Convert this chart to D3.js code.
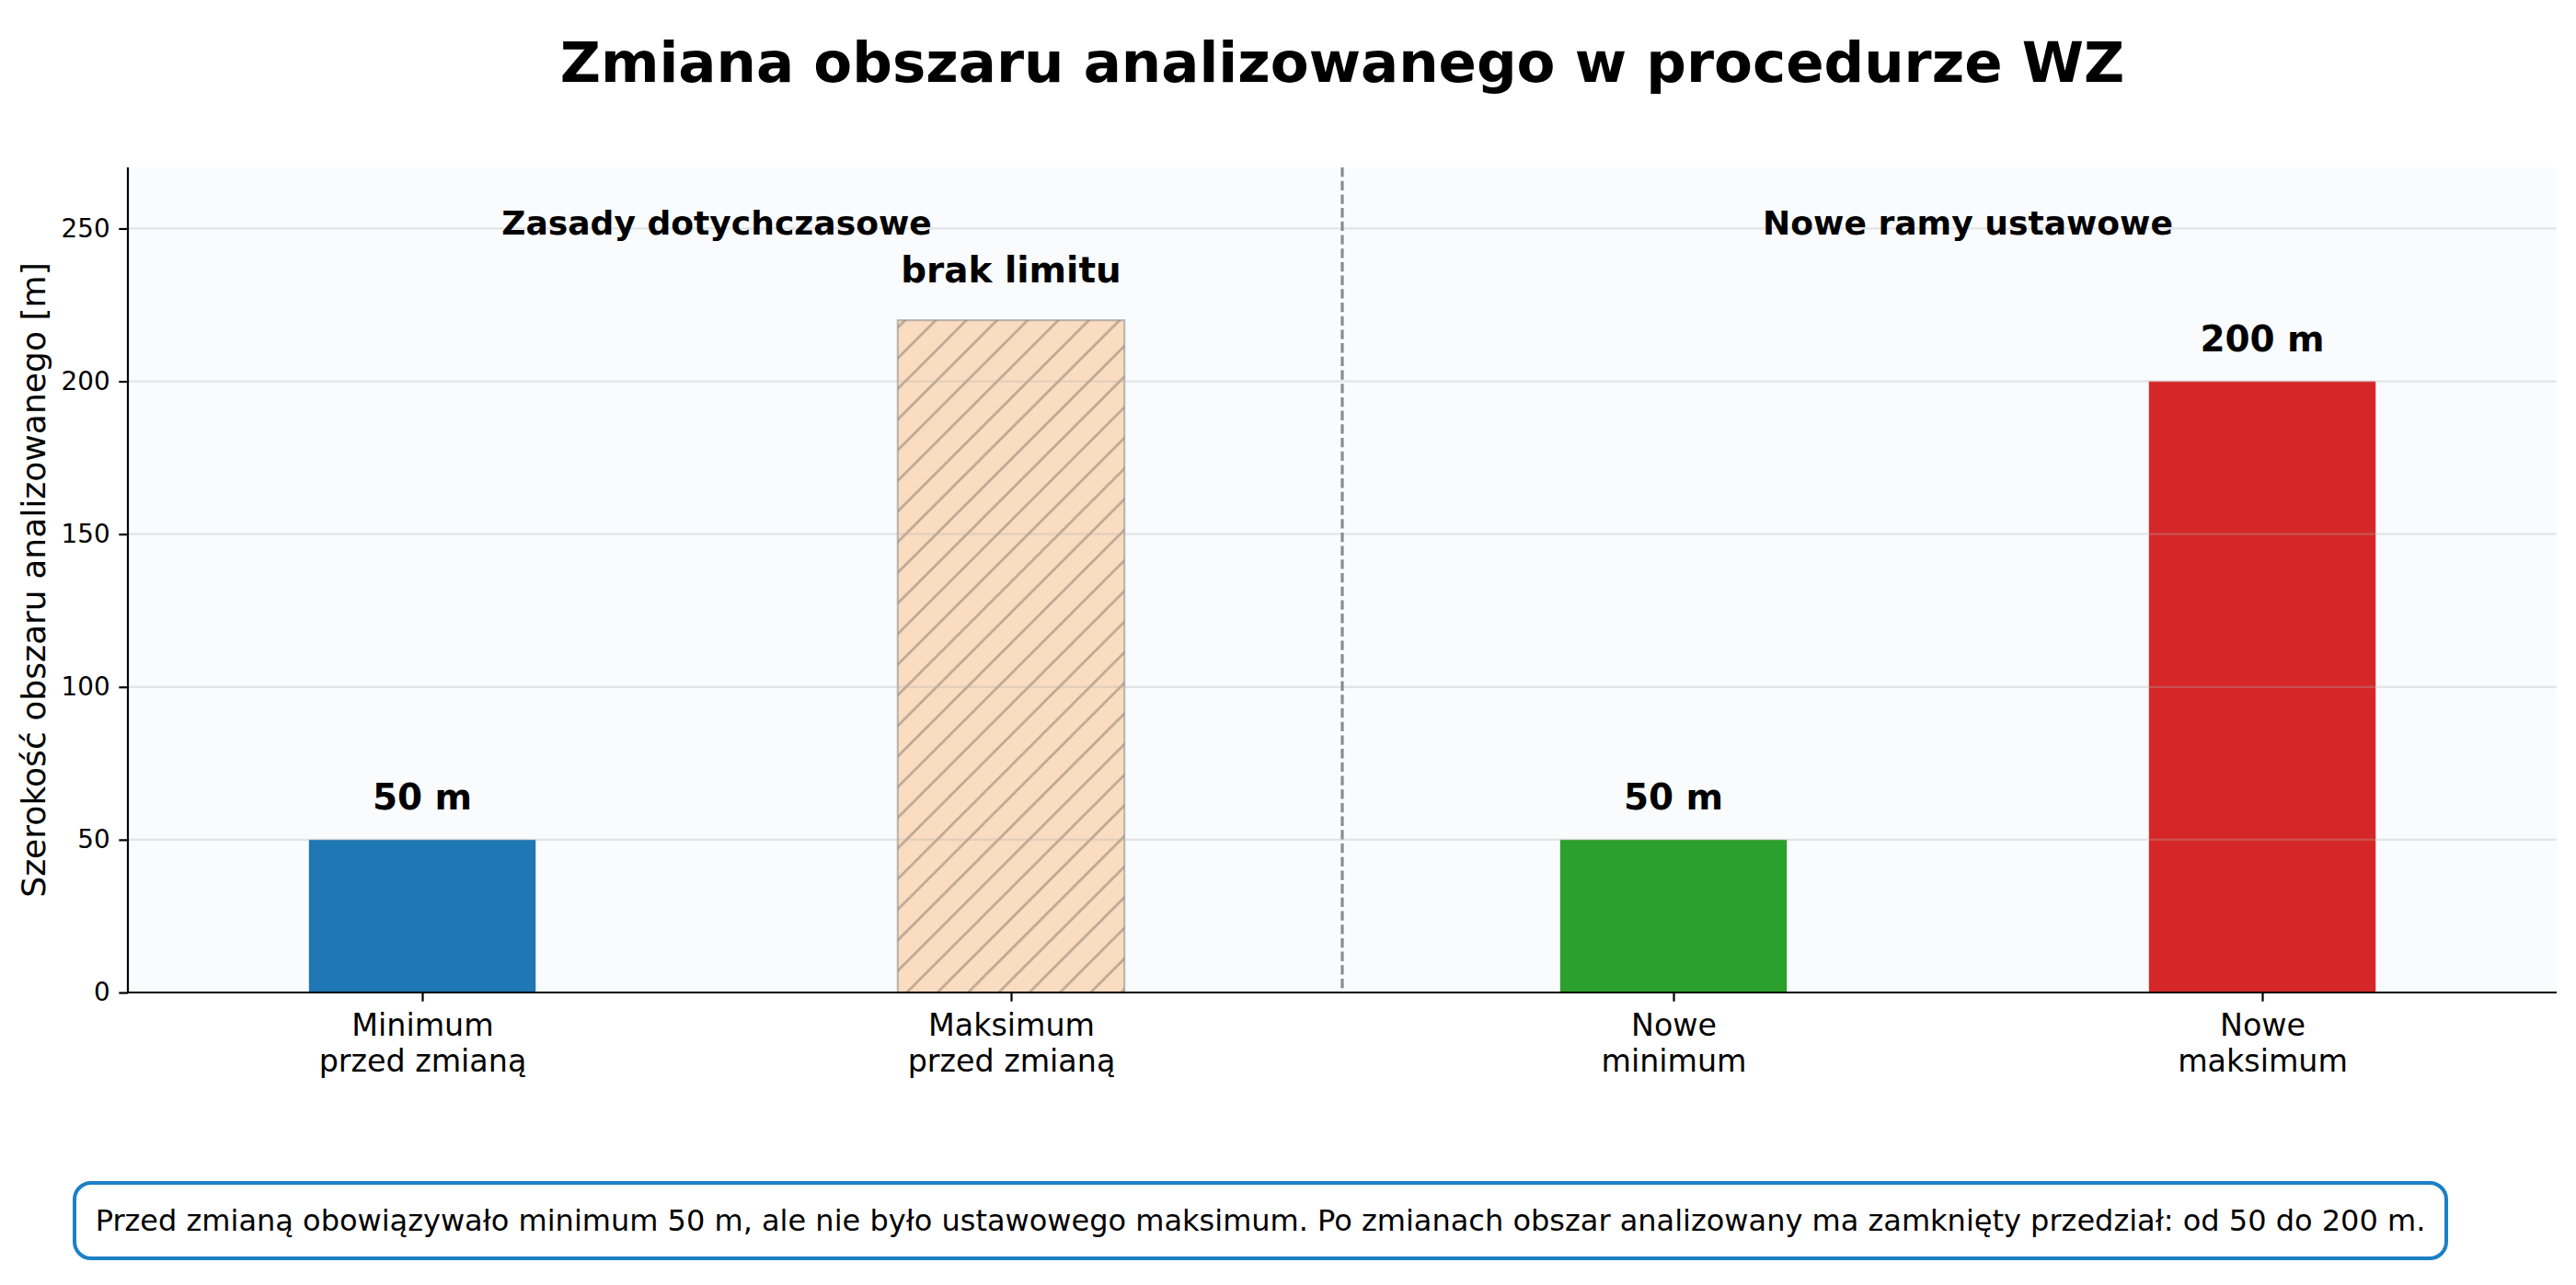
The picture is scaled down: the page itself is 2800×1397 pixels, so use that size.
<!DOCTYPE html>
<html>
<head>
	<title></title>
	<script type="text/javascript" src="https://cdn.jsdelivr.net/npm/d3@7"></script>
	<style>
		body { margin: 0; background: #fff; }
		text { font-family: 'DejaVu Sans', sans-serif; }
	</style>
</head>
<body>

<div id='chart'></div>

<script type="text/javascript">

var categories = ['Minimum\nprzed zmianą', 'Maksimum\nprzed zmianą', 'Nowe\nminimum', 'Nowe\nmaksimum'];
var positions = [0, 1, 2.125, 3.125];
var values = [50, 220, 50, 200];
var value_labels = ['50 m', 'brak limitu', '50 m', '200 m'];
var bar_colors = ['#1f77b4', '#ff7f0e', '#2ca02c', '#d62728'];
var hatched = [false, true, false, false];

var group_labels = ['Zasady dotychczasowe', 'Nowe ramy ustawowe'];
var group_members = [[0, 1], [2, 3]];

var y_ticks = [0, 50, 100, 150, 200, 250];

var title = 'Zmiana obszaru analizowanego w procedurze WZ';
var y_title = 'Szerokość obszaru analizowanego [m]';
var note = 'Przed zmianą obowiązywało minimum 50 m, ale nie było ustawowego maksimum. Po zmianach obszar analizowany ma zamknięty przedział: od 50 do 200 m.';

var width = 2800,
	height = 1397;

var plot_left = 139,
	plot_right = 2779,
	plot_top = 182,
	plot_bottom = 1079;

var bar_width = 0.385;

var x = d3.scaleLinear()
	.domain([-0.5, positions[positions.length - 1] + 0.5])
	.range([plot_left, plot_right]);

var y = d3.scaleLinear()
	.domain([0, 270])
	.range([plot_bottom, plot_top]);

var svg = d3.select('#chart').append('svg')
	.attr('width', width)
	.attr('height', height)
	.style('display', 'block');

svg.append('rect')
	.attr('width', width)
	.attr('height', height)
	.style('fill', '#ffffff');

// hatch for the "no limit" bar
var hatch_step = 33.3;
var pat = svg.append('defs').append('pattern')
	.attr('id', 'hatch')
	.attr('patternUnits', 'userSpaceOnUse')
	.attr('width', hatch_step)
	.attr('height', hatch_step);

pat.append('path')
	.attr('d', 'M0,' + hatch_step + ' L' + hatch_step + ',0 M-4,4 L4,-4 M' + (hatch_step - 4) + ',' + (hatch_step + 4) + ' L' + (hatch_step + 4) + ',' + (hatch_step - 4))
	.style('stroke', '#8a7a6c')
	.style('stroke-opacity', 0.55)
	.style('stroke-width', 2.6);

// plot background
svg.append('rect')
	.attr('x', plot_left)
	.attr('y', plot_top)
	.attr('width', plot_right - plot_left)
	.attr('height', plot_bottom - plot_top)
	.style('fill', '#f9fbfd');

var data = categories.map(function(c, i){
	return {cat: c, pos: positions[i], val: values[i], label: value_labels[i], color: bar_colors[i], hatch: hatched[i]};
});

var bars = svg.append('g');

bars.selectAll('.bar').data(data)
	.enter().append('rect').classed('bar', true)
		.attr('x', function(d){ return x(d.pos - bar_width / 2); })
		.attr('y', function(d){ return y(d.val); })
		.attr('width', function(d){ return x(d.pos + bar_width / 2) - x(d.pos - bar_width / 2); })
		.attr('height', function(d){ return y(0) - y(d.val); })
		.style('fill', function(d){ return d.color; })
		.style('fill-opacity', function(d){ return d.hatch ? 0.25 : 1; });

bars.selectAll('.hatch').data(data.filter(function(d){ return d.hatch; }))
	.enter().append('rect').classed('hatch', true)
		.attr('x', function(d){ return x(d.pos - bar_width / 2); })
		.attr('y', function(d){ return y(d.val); })
		.attr('width', function(d){ return x(d.pos + bar_width / 2) - x(d.pos - bar_width / 2); })
		.attr('height', function(d){ return y(0) - y(d.val); })
		.style('fill', 'url(#hatch)')
		.style('stroke', '#808080')
		.style('stroke-opacity', 0.5)
		.style('stroke-width', 2.2);

// grid sits above the bars, like matplotlib's default
svg.append('g').selectAll('line').data(y_ticks.slice(1))
	.enter().append('line')
		.attr('x1', plot_left)
		.attr('x2', plot_right)
		.attr('y1', function(d){ return y(d); })
		.attr('y2', function(d){ return y(d); })
		.style('stroke', '#b0b0b0')
		.style('stroke-opacity', 0.3)
		.style('stroke-width', 2.2);

// divider between the two groups
var split = (positions[1] + positions[2]) / 2;
svg.append('line')
	.attr('x1', x(split))
	.attr('x2', x(split))
	.attr('y1', plot_top)
	.attr('y2', plot_bottom)
	.style('stroke', '#808080')
	.style('stroke-opacity', 0.9)
	.style('stroke-width', 3.2)
	.style('stroke-dasharray', '10.3,4.4');

// axes
var y_axis = d3.axisLeft(y)
	.tickValues(y_ticks)
	.tickSize(9.7)
	.tickPadding(9.7);

var gy = svg.append('g')
	.attr('transform', 'translate(' + plot_left + ',0)')
	.call(y_axis);

gy.select('.domain')
	.attr('d', 'M0,' + plot_top + 'V' + plot_bottom)
	.style('stroke', '#000')
	.style('stroke-width', 2.2);
gy.selectAll('.tick line').style('stroke', '#000').style('stroke-width', 2.2);
gy.selectAll('.tick text')
	.style('font-size', '27.8px')
	.style('fill', '#000');

var x_axis = d3.axisBottom(x)
	.tickValues(positions)
	.tickSize(9.7)
	.tickFormat('');

var gx = svg.append('g')
	.attr('transform', 'translate(0,' + plot_bottom + ')')
	.call(x_axis);

gx.select('.domain')
	.attr('d', 'M' + plot_left + ',0H' + plot_right)
	.style('stroke', '#000')
	.style('stroke-width', 2.2);
gx.selectAll('.tick line').style('stroke', '#000').style('stroke-width', 2.2);

gx.selectAll('.tick').each(function(d, i){
	var lines = categories[i].split('\n');
	var t = d3.select(this).append('text')
		.attr('text-anchor', 'middle')
		.style('font-size', '33.3px')
		.style('fill', '#000');
	lines.forEach(function(s, j){
		t.append('tspan')
			.attr('x', 0)
			.attr('y', 47 + j * 38.5)
			.text(s);
	});
});

// value labels
svg.append('g').selectAll('text').data(data)
	.enter().append('text')
		.attr('x', function(d){ return x(d.pos); })
		.attr('y', function(d){ return y(d.val) - (d.hatch ? 41 : 33); })
		.attr('text-anchor', 'middle')
		.style('font-size', '38.9px')
		.style('font-weight', 'bold')
		.style('fill', '#000')
		.text(function(d){ return d.label; });

// group headers
svg.append('g').selectAll('text').data(group_labels)
	.enter().append('text')
		.attr('x', function(d, i){ return x(d3.mean(group_members[i], function(k){ return positions[k]; })); })
		.attr('y', y(250) + 7)
		.attr('text-anchor', 'middle')
		.style('font-size', '36.1px')
		.style('font-weight', 'bold')
		.style('fill', '#000')
		.text(function(d){ return d; });

// y title
svg.append('text')
	.attr('transform', 'translate(49,' + ((plot_top + plot_bottom) / 2) + ') rotate(-90)')
	.attr('text-anchor', 'middle')
	.style('font-size', '36.1px')
	.style('fill', '#000')
	.text(y_title);

// title
svg.append('text')
	.attr('x', (plot_left + plot_right) / 2)
	.attr('y', 89)
	.attr('text-anchor', 'middle')
	.style('font-size', '61px')
	.style('font-weight', 'bold')
	.style('fill', '#000')
	.text(title);

// note box
svg.append('rect')
	.attr('x', 81)
	.attr('y', 1286)
	.attr('width', 2578)
	.attr('height', 82)
	.attr('rx', 18)
	.style('fill', '#ffffff')
	.style('stroke', '#1b80c6')
	.style('stroke-width', 4);

svg.append('text')
	.attr('x', 81 + 2578 / 2)
	.attr('y', 1338)
	.attr('text-anchor', 'middle')
	.style('font-size', '32px')
	.style('fill', '#000')
	.text(note);

</script>

</body>
</html>
